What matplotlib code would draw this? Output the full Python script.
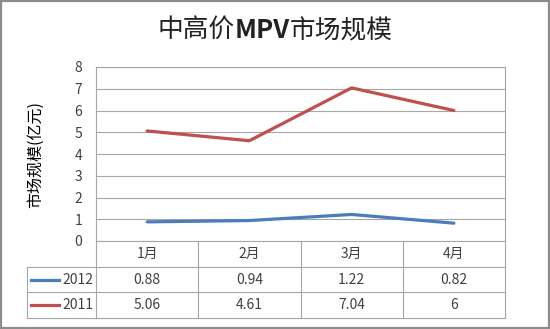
import matplotlib
matplotlib.use('Agg')
import numpy as np
from matplotlib import pyplot as plt
from matplotlib.lines import Line2D
from matplotlib.patches import Rectangle

plt.rcParams['font.family'] = ['Noto Sans CJK SC', 'DejaVu Sans']

# title is drawn in pieces, the middle part is bold
title_parts = ['中高价', 'MPV', '市场规模']
title_bold = [False, True, False]
ylabel = '市场规模(亿元)'
months = ['1月', '2月', '3月', '4月']
series_names = ['2012', '2011']
vals_2012 = [0.88, 0.94, 1.22, 0.82]
vals_2011 = [5.06, 4.61, 7.04, 6]
value_labels = [['0.88', '0.94', '1.22', '0.82'], ['5.06', '4.61', '7.04', '6']]
colors = ['#4A7EBB', '#C0504D']

W, H = 550, 329
fig = plt.figure(figsize=(W / 100, H / 100), dpi=100)

def fx(px):
    return px / W

def fy(py):
    return 1 - py / H

# plot area
left, right, top, bottom = 96, 505, 67, 241
ax = fig.add_axes([fx(left), fy(bottom), fx(right - left), fy(top) - fy(bottom)])
x = np.arange(len(months))
ax.plot(x, vals_2012, color=colors[0], lw=2.3, solid_capstyle='round')
ax.plot(x, vals_2011, color=colors[1], lw=2.3, solid_capstyle='round')
ax.set_xlim(-0.5, len(months) - 0.5)
ax.set_ylim(0, 8)
ax.set_yticks(range(0, 9))
ax.set_xticks([])
ax.grid(axis='y', color='#a6a6a6', lw=0.8)
ax.set_axisbelow(True)
for s in ['top', 'right', 'left', 'bottom']:
    ax.spines[s].set_color('#a6a6a6')
    ax.spines[s].set_linewidth(0.8)
ax.tick_params(axis='y', length=0, labelsize=10, pad=10, colors='#404040')
ax.set_ylabel(ylabel, fontsize=11.5, labelpad=22)

# title, measured piece by piece so it stays centred
renderer = fig.canvas.get_renderer()
texts = []
for part, b in zip(title_parts, title_bold):
    t = fig.text(0, fy(31), part, ha='left', va='center', fontsize=18.5,
                 color='#222222', fontweight='bold' if b else 'normal')
    texts.append(t)
widths = [t.get_window_extent(renderer).width for t in texts]
xpos = (W - sum(widths)) / 2
for t, w in zip(texts, widths):
    t.set_x(fx(xpos))
    xpos += w

# data table below the plot
row_y = [241, 267, 292, 318]
tleft = 27
cw = (right - left) / len(months)
gc = '#a6a6a6'
lines = []
for yy in row_y[1:]:
    lines.append(([fx(tleft), fx(right)], [fy(yy), fy(yy)]))
lines.append(([fx(tleft), fx(tleft)], [fy(row_y[1]), fy(row_y[3])]))
for i in range(len(months) + 1):
    xx = left + i * cw
    lines.append(([fx(xx), fx(xx)], [fy(row_y[0]), fy(row_y[3])]))
for xs, ys in lines:
    fig.add_artist(Line2D(xs, ys, color=gc, lw=0.8))

for i, m in enumerate(months):
    cx = left + (i + 0.5) * cw
    fig.text(fx(cx), fy((row_y[0] + row_y[1]) / 2), m, ha='center', va='center',
             fontsize=10, color='#404040')
    for r in range(2):
        fig.text(fx(cx), fy((row_y[r + 1] + row_y[r + 2]) / 2), value_labels[r][i],
                 ha='center', va='center', fontsize=10, color='#404040')

for r, name in enumerate(series_names):
    yc = (row_y[r + 1] + row_y[r + 2]) / 2
    fig.add_artist(Line2D([fx(31), fx(59)], [fy(yc), fy(yc)], color=colors[r], lw=2.3))
    fig.text(fx(93), fy(yc), name, ha='right', va='center', fontsize=10, color='#404040')

# outer frame
fig.add_artist(Rectangle((0.002, 0.003), 0.996, 0.994, transform=fig.transFigure,
                         fill=False, edgecolor='#8c8c8c', lw=1.6))

fig.savefig('out.png', dpi=100)
